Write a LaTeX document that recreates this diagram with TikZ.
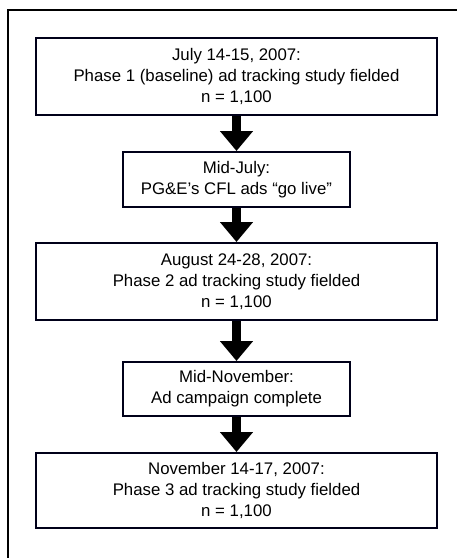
\documentclass[tikz,border=0pt]{standalone}
\usepackage{fontspec}
\setmainfont{Liberation Sans}
\usetikzlibrary{arrows.meta}
\begin{document}
\begin{tikzpicture}[x=1pt,y=-1pt,
  box/.style={draw=black!90!blue, line width=2pt, align=center, font=\fontsize{16.8}{21}\selectfont, inner sep=0pt},
  wide/.style={box, minimum width=401pt},
  narrow/.style={box, minimum width=227pt},
  flow/.style={line width=9pt, -{Triangle[width=32pt,length=20pt]}}]
\useasboundingbox (0,0) rectangle (457,558);
\draw[line width=2pt] (8,558) -- (8,10) -- (457,10);
\node[wide, minimum height=77pt] (b1) at (236.5,76.5) {July 14-15, 2007:\\Phase 1 (baseline) ad tracking study fielded\\n = 1,100};
\node[narrow, minimum height=55pt] (b2) at (236.5,179.5) {Mid-July:\\PG\&E’s CFL ads “go live”};
\node[wide, minimum height=77pt] (b3) at (236.5,281.5) {August 24-28, 2007:\\Phase 2 ad tracking study fielded\\n = 1,100};
\node[narrow, minimum height=54pt] (b4) at (236.5,389) {Mid-November:\\Ad campaign complete};
\node[wide, minimum height=75pt] (b5) at (236.5,490.5) {November 14-17, 2007:\\Phase 3 ad tracking study fielded\\n = 1,100};
\draw[flow] (b1.south) -- (b2.north);
\draw[flow] (b2.south) -- (b3.north);
\draw[flow] (b3.south) -- (b4.north);
\draw[flow] (b4.south) -- (b5.north);
\end{tikzpicture}
\end{document}
